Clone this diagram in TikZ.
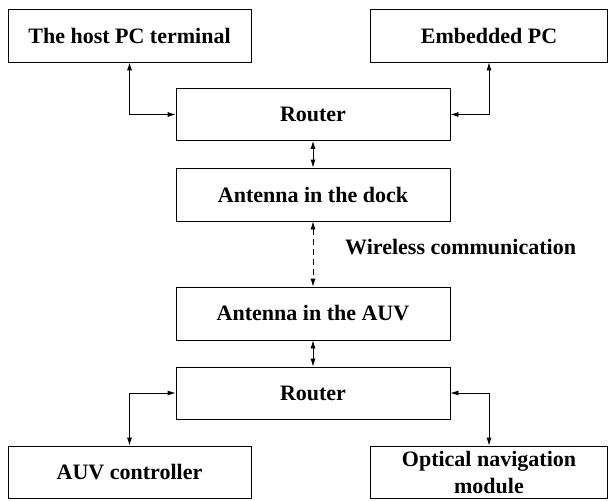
\documentclass[tikz,border=0pt]{standalone}
\usepackage{fontspec}
\setmainfont{Liberation Serif}
\usetikzlibrary{arrows.meta,positioning,calc}

\begin{document}
\begin{tikzpicture}[x=1pt,y=-1pt,
    block/.style={draw,line width=0.8pt,inner sep=0pt,align=center,
      font=\fontsize{22}{24}\selectfont\bfseries},
    link/.style={line width=0.8pt,{Latex[length=8pt,width=5pt]}-{Latex[length=8pt,width=5pt]}}]
  \useasboundingbox (0,0) rectangle (609,500);
  % top row
  \node[block,minimum width=243pt,minimum height=53pt] (host) at (129.5,35.5) {The host PC terminal};
  \node[block,minimum width=237pt,minimum height=53pt] (embedded) at (489,35.5) {Embedded PC};
  % dock side
  \node[block,minimum width=274pt,minimum height=52pt] (router1) at (313,114.5) {Router};
  \node[block,minimum width=274pt,minimum height=53pt] (dock) at (313,194.5) {Antenna in the dock};
  % AUV side
  \node[block,minimum width=274pt,minimum height=53pt] (auvant) at (313,313.5) {Antenna in the AUV};
  \node[block,minimum width=274pt,minimum height=52pt] (router2) at (313,393) {Router};
  % bottom row
  \node[block,minimum width=243pt,minimum height=52pt] (controller) at (129.5,472) {AUV controller};
  \node[block,minimum width=237pt,minimum height=52pt] (optnav) at (489,472) {Optical navigation\\[3pt]module};
  \node[anchor=west,inner sep=0pt,font=\fontsize{22}{24}\selectfont\bfseries] (wireless) at (345,247) {Wireless communication};
  % links
  \draw[link] (host.south) |- (router1.west);
  \draw[link] (embedded.south) |- (router1.east);
  \draw[link] (router1) -- (dock);
  \draw[link,dash pattern=on 6pt off 4pt] (dock) -- (auvant);
  \draw[link] (auvant) -- (router2);
  \draw[link] (controller.north) |- (router2.west);
  \draw[link] (optnav.north) |- (router2.east);
\end{tikzpicture}
\end{document}
